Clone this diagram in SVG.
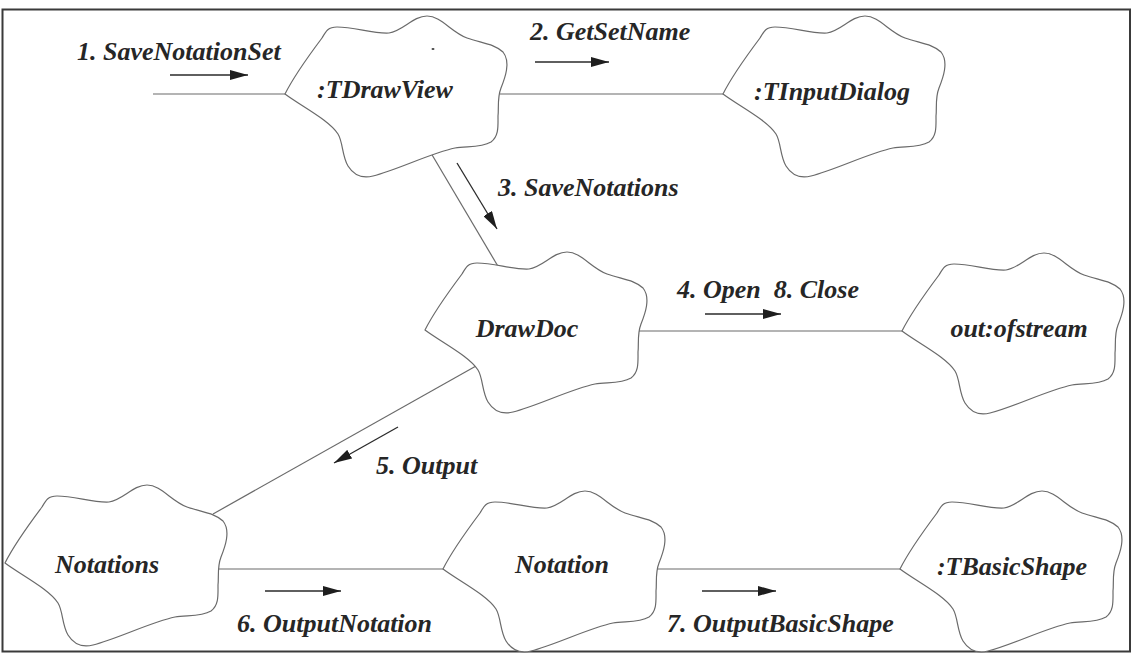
<svg xmlns="http://www.w3.org/2000/svg" xmlns:xlink="http://www.w3.org/1999/xlink" width="1134" height="658" viewBox="0 0 1134 658">
  <style>
    .frame { fill: #ffffff; stroke: #3a3a3a; stroke-width: 2; }
    .cloud { fill: #ffffff; stroke: #6a6a6a; stroke-width: 1.2; stroke-linejoin: round; }
    .link { fill: none; stroke: #6a6a6a; stroke-width: 1.2; }
    .flow { fill: none; stroke: #2a2a2a; stroke-width: 1.3; }
    .name { font-family: "Liberation Serif", "Times New Roman", serif; font-style: italic; font-weight: bold; font-size: 26px; fill: #262626; text-anchor: middle; }
    .msg { font-family: "Liberation Serif", "Times New Roman", serif; font-style: italic; font-weight: bold; font-size: 26px; fill: #262626; }
  </style>
  <defs>
    <!-- object icon outline; origin is the pointed left tip -->
    <path id="cloud" d="M0,0 C8,-16 25,-40 37,-56 C41,-63 43,-67 52,-67 C70,-67 88,-60 104,-61 C118,-63 128,-78 142,-78 C156,-78 166,-62 182,-56 C196,-51 210,-50 218,-42 C226,-32 220,-16 216,-6 C212,4 214,14 213,22 C213,32 214,42 206,48 C196,54 182,52 170,54 C146,59 112,76 88,82 C76,85 68,80 63,72 C57,62 58,48 53,40 C44,26 16,12 0,0 Z"/>
    <marker id="head" viewBox="0 0 18 10" refX="18" refY="5" markerWidth="18" markerHeight="10" markerUnits="userSpaceOnUse" orient="auto">
      <path d="M0,0 L18,5 L0,10 Z" fill="#1e1e1e"/>
    </marker>
  </defs>

  <rect class="frame" x="2.5" y="9.5" width="1127.5" height="642"/>

  <!-- links between objects -->
  <g id="connectors">
    <line class="link" x1="153" y1="94" x2="285" y2="94"/>
    <line class="link" x1="500" y1="94" x2="723" y2="94"/>
    <line class="link" x1="428" y1="148" x2="499" y2="268"/>
    <line class="link" x1="639" y1="331" x2="902" y2="331"/>
    <line class="link" x1="476" y1="366" x2="213" y2="514"/>
    <line class="link" x1="218" y1="569" x2="443" y2="569"/>
    <line class="link" x1="656" y1="569" x2="900" y2="569"/>

    <!-- message direction arrows -->
    <line class="flow" x1="170" y1="75" x2="248" y2="75" marker-end="url(#head)"/>
    <line class="flow" x1="535" y1="62" x2="609" y2="62" marker-end="url(#head)"/>
    <line class="flow" x1="457" y1="163" x2="497" y2="229" marker-end="url(#head)"/>
    <line class="flow" x1="705" y1="314" x2="781" y2="314" marker-end="url(#head)"/>
    <line class="flow" x1="398" y1="427" x2="334" y2="463" marker-end="url(#head)"/>
    <line class="flow" x1="265" y1="591" x2="341" y2="591" marker-end="url(#head)"/>
    <line class="flow" x1="702" y1="591" x2="776" y2="591" marker-end="url(#head)"/>

    <!-- message labels -->
    <text class="msg" x="77" y="60">1. SaveNotationSet</text>
    <text class="msg" x="530" y="40">2. GetSetName</text>
    <text class="msg" x="498" y="196">3. SaveNotations</text>
    <text class="msg" x="677" y="298" xml:space="preserve">4. Open  8. Close</text>
    <text class="msg" x="376" y="474">5. Output</text>
    <text class="msg" x="237" y="632">6. OutputNotation</text>
    <text class="msg" x="667" y="632">7. OutputBasicShape</text>
  </g>

  <g id="tdrawview">
    <use xlink:href="#cloud" href="#cloud" class="cloud" x="285" y="94"/>
    <ellipse cx="433" cy="49" rx="1.5" ry="1" fill="#444"/>
    <text class="name" x="385" y="98">:TDrawView</text>
  </g>

  <g id="tinputdialog">
    <use xlink:href="#cloud" href="#cloud" class="cloud" x="723" y="94"/>
    <text class="name" x="832" y="100">:TInputDialog</text>
  </g>

  <g id="drawdoc">
    <use xlink:href="#cloud" href="#cloud" class="cloud" x="425" y="330"/>
    <text class="name" x="527" y="337">DrawDoc</text>
  </g>

  <g id="ofstream">
    <use xlink:href="#cloud" href="#cloud" class="cloud" x="902" y="331"/>
    <text class="name" x="1019" y="337">out:ofstream</text>
  </g>

  <g id="notations">
    <use xlink:href="#cloud" href="#cloud" class="cloud" x="5" y="563"/>
    <text class="name" x="107" y="573">Notations</text>
  </g>

  <g id="notation">
    <use xlink:href="#cloud" href="#cloud" class="cloud" x="443" y="569"/>
    <text class="name" x="562" y="573">Notation</text>
  </g>

  <g id="tbasicshape">
    <use xlink:href="#cloud" href="#cloud" class="cloud" x="900" y="569"/>
    <text class="name" x="1012" y="575">:TBasicShape</text>
  </g>
</svg>
